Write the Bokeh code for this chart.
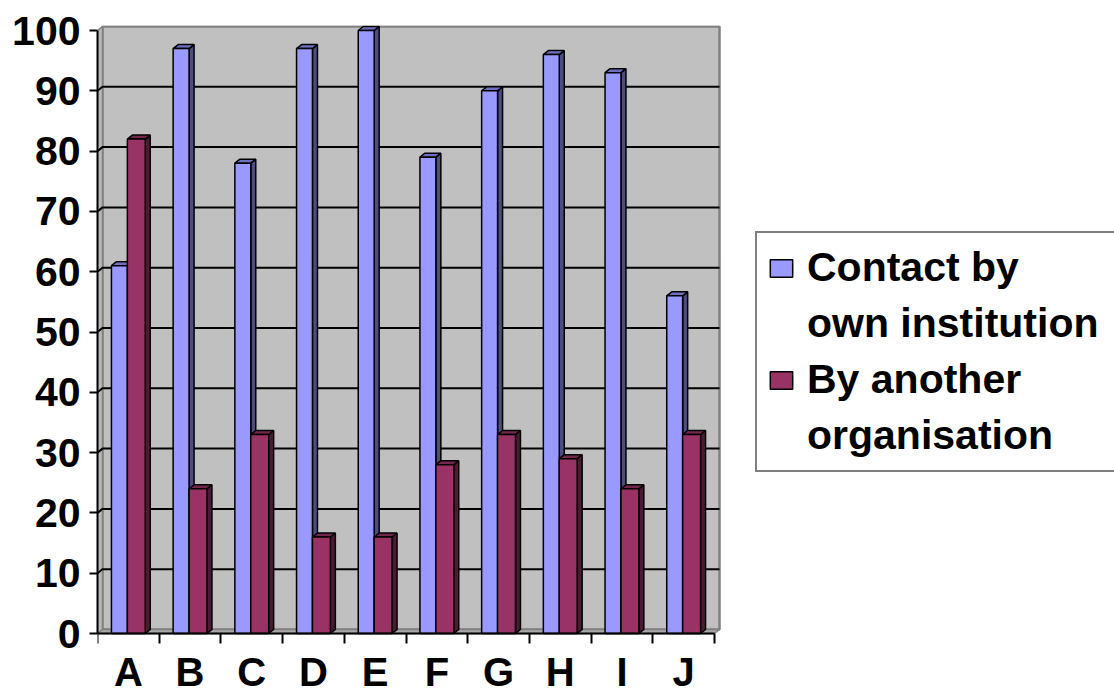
from bokeh.plotting import figure
from bokeh.models import FixedTicker, Legend, LegendItem, LinearAxis
from bokeh.embed import file_html
from bokeh.resources import INLINE

# ---- data ----
categories = ["A", "B", "C", "D", "E", "F", "G", "H", "I", "J"]
own_institution = [61, 97, 78, 97, 100, 79, 90, 96, 93, 56]
another_org = [82, 24, 33, 16, 16, 28, 33, 29, 24, 33]
y_ticks = [0, 10, 20, 30, 40, 50, 60, 70, 80, 90, 100]
grid_values = [10, 20, 30, 40, 50, 60, 70, 80, 90]
legend_lines = ["Contact by", "own institution", "By another", "organisation"]

# ---- geometry / style ----
PX_X = 61.7    # pixels per category
PX_Y = 6.03    # pixels per value unit
WALL_DX = 5 / PX_X
WALL_DY = 4 / PX_Y
BAR_DX = 5 / PX_X
BAR_DY = 4 / PX_Y
FONT = "Liberation Sans"
FS = "41px"

BLUE, BLUE_SIDE, BLUE_TOP = "#9999FF", "#4D4D80", "#7070C0"
RED, RED_SIDE, RED_TOP = "#993366", "#4D1A33", "#74264D"

W, H = 1114, 697
LEFT, TOP = 97, 25
frame_w = W - LEFT
frame_h = H - TOP
zero_from_top = 608
y_top = zero_from_top / PX_Y
y_bot = -(frame_h - zero_from_top) / PX_Y

p = figure(width=W, height=H, x_range=(0, frame_w / PX_X), y_range=(y_bot, y_top),
           output_backend="svg", toolbar_location=None,
           x_axis_type=None, y_axis_type=None,
           min_border_left=LEFT, min_border_right=0, min_border_top=TOP, min_border_bottom=0)
p.outline_line_color = None
p.background_fill_color = "white"
p.border_fill_color = "white"

n = len(categories)

# walls and floor
p.patch([WALL_DX, n + WALL_DX, n + WALL_DX, WALL_DX],
        [WALL_DY, WALL_DY, 100 + WALL_DY, 100 + WALL_DY],
        fill_color="#C0C0C0", line_color="#808080", line_width=2.5)
p.patch([0, WALL_DX, WALL_DX, 0], [0, WALL_DY, 100 + WALL_DY, 100],
        fill_color="#B8B8B8", line_color="#808080", line_width=1.5)
p.patch([0, n, n + WALL_DX, WALL_DX], [0, 0, WALL_DY, WALL_DY],
        fill_color="#A8A8A8", line_color="#808080", line_width=1.5)

# gridlines (on side wall and back wall)
p.multi_line([[0, WALL_DX, n + WALL_DX] for v in grid_values],
             [[v, v + WALL_DY, v + WALL_DY] for v in grid_values],
             line_color="black", line_width=2)


def bars(values, off_l, off_r, front, side, top):
    lefts = [i + off_l for i in range(n)]
    rights = [i + off_r for i in range(n)]
    p.patches([[r, r + BAR_DX, r + BAR_DX, r] for r in rights],
              [[0, BAR_DY, v + BAR_DY, v] for v in values],
              fill_color=side, line_color="black", line_width=1.5)
    p.patches([[l, r, r + BAR_DX, l + BAR_DX] for l, r in zip(lefts, rights)],
              [[v, v, v + BAR_DY, v + BAR_DY] for v in values],
              fill_color=top, line_color="black", line_width=1.5)
    return p.quad(left=lefts, right=rights, bottom=[0] * n, top=values,
                  fill_color=front, line_color="black", line_width=1.5)


r_blue = bars(own_institution, 0.226, 0.484, BLUE, BLUE_SIDE, BLUE_TOP)
r_red = bars(another_org, 0.484, 0.774, RED, RED_SIDE, RED_TOP)

# axes
yaxis = LinearAxis(ticker=FixedTicker(ticks=y_ticks, minor_ticks=[]), bounds=(0, 100))
yaxis.axis_line_color = "black"
yaxis.axis_line_width = 2
yaxis.major_tick_out = 8
yaxis.major_tick_in = 0
yaxis.major_tick_line_width = 2
yaxis.minor_tick_out = 0
yaxis.minor_tick_in = 0
yaxis.major_label_standoff = 9
yaxis.major_label_text_font = FONT
yaxis.major_label_text_font_size = FS
yaxis.major_label_text_font_style = "bold"
yaxis.major_label_text_color = "black"
p.add_layout(yaxis, "left")

centers = [i + 0.5 for i in range(n)]
xaxis = LinearAxis(ticker=FixedTicker(ticks=centers, minor_ticks=list(range(n + 1))),
                   bounds=(0, n), fixed_location=0)
xaxis.major_label_overrides = {c: lab for c, lab in zip(centers, categories)}
xaxis.axis_line_color = "black"
xaxis.axis_line_width = 2
xaxis.major_tick_out = 0
xaxis.major_tick_in = 0
xaxis.minor_tick_out = 10
xaxis.minor_tick_in = 0
xaxis.minor_tick_line_color = "black"
xaxis.minor_tick_line_width = 2
xaxis.major_label_standoff = 6
xaxis.major_label_text_font = FONT
xaxis.major_label_text_font_size = "40px"
xaxis.major_label_text_font_style = "bold"
xaxis.major_label_text_color = "black"
p.add_layout(xaxis, "below")

# legend
dummy = p.quad(left=[], right=[], bottom=[], top=[], fill_alpha=0, line_alpha=0)
items = [LegendItem(label=legend_lines[0], renderers=[r_blue]),
         LegendItem(label=legend_lines[1], renderers=[dummy]),
         LegendItem(label=legend_lines[2], renderers=[r_red]),
         LegendItem(label=legend_lines[3], renderers=[dummy])]
legend_bottom_from_frame_bottom = H - 472
legend = Legend(items=items, location=(755 - LEFT, legend_bottom_from_frame_bottom),
                glyph_width=28, glyph_height=22, label_standoff=12,
                padding=10, spacing=7, label_height=49, label_width=330, margin=0,
                border_line_color="black", border_line_width=2,
                background_fill_color="white", background_fill_alpha=1,
                label_text_font=FONT, label_text_font_size=FS,
                label_text_font_style="bold", label_text_color="black")
p.add_layout(legend, "center")

open("out.html", "w").write(file_html(p, INLINE))
